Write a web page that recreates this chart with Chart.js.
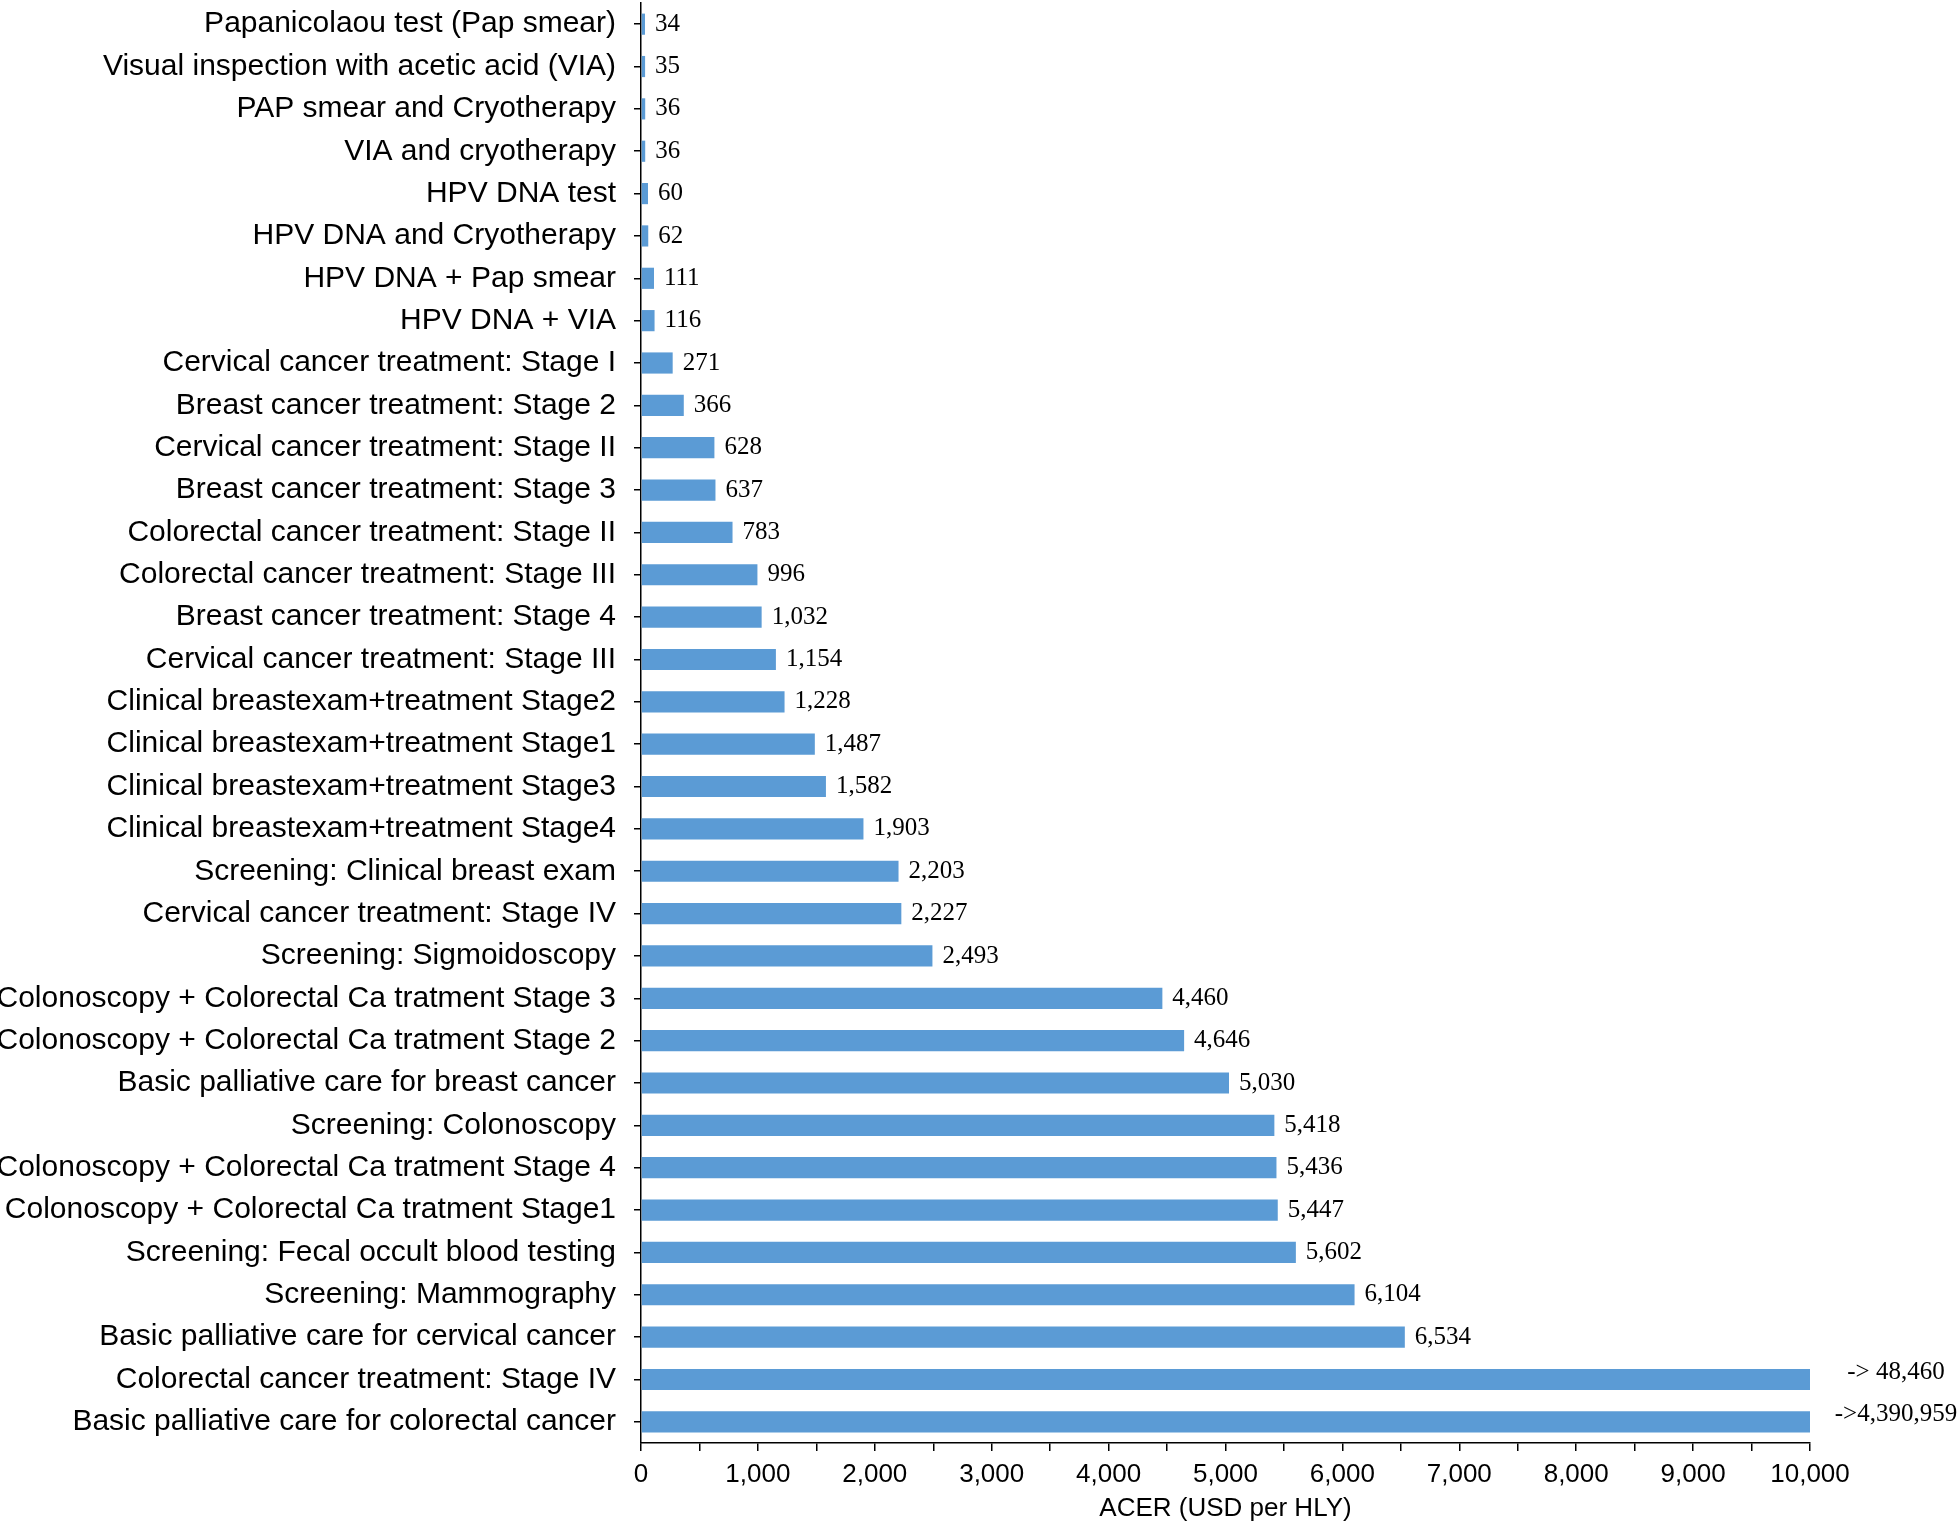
<!DOCTYPE html>
<html>
<head>
<meta charset="utf-8">
<script src="https://cdn.jsdelivr.net/npm/chart.js@4.4.1/dist/chart.umd.min.js"></script>
<style>
html,body{margin:0;padding:0;background:#fff;}
#wrap{width:1960px;height:1524px;}
</style>
</head>
<body>
<div id="wrap"><canvas id="c" width="1960" height="1524"></canvas></div>
<script>
const categories = [
  "Papanicolaou test (Pap smear)",
  "Visual inspection with acetic acid (VIA)",
  "PAP smear and Cryotherapy",
  "VIA and cryotherapy",
  "HPV DNA test",
  "HPV DNA and Cryotherapy",
  "HPV DNA + Pap smear",
  "HPV DNA + VIA",
  "Cervical cancer treatment: Stage I",
  "Breast cancer treatment: Stage 2",
  "Cervical cancer treatment: Stage II",
  "Breast cancer treatment: Stage 3",
  "Colorectal cancer treatment: Stage II",
  "Colorectal cancer treatment: Stage III",
  "Breast cancer treatment: Stage 4",
  "Cervical cancer treatment: Stage III",
  "Clinical breastexam+treatment Stage2",
  "Clinical breastexam+treatment Stage1",
  "Clinical breastexam+treatment Stage3",
  "Clinical breastexam+treatment Stage4",
  "Screening: Clinical breast exam",
  "Cervical cancer treatment: Stage IV",
  "Screening: Sigmoidoscopy",
  "Colonoscopy + Colorectal Ca tratment Stage 3",
  "Colonoscopy + Colorectal Ca tratment Stage 2",
  "Basic palliative care for breast cancer",
  "Screening: Colonoscopy",
  "Colonoscopy + Colorectal Ca tratment Stage 4",
  "Colonoscopy + Colorectal Ca tratment Stage1",
  "Screening: Fecal occult blood testing",
  "Screening: Mammography",
  "Basic palliative care for cervical cancer",
  "Colorectal cancer treatment: Stage IV",
  "Basic palliative care for colorectal cancer"
];
const acerValues = [34, 35, 36, 36, 60, 62, 111, 116, 271, 366, 628, 637, 783, 996, 1032, 1154, 1228, 1487, 1582, 1903, 2203, 2227, 2493, 4460, 4646, 5030, 5418, 5436, 5447, 5602, 6104, 6534, 48460, 4390959];
const xTickMin = 0;
const xTickMax = 10000;
const xTickStep = 500;
const xLabelStep = 1000;
const overflowPrefixes = ["-> ", "->"];
const axisTitle = "ACER (USD per HLY)";

const BAR_COLOR = "#5B9BD5";
const fmt = v => v.toLocaleString("en-US");

const valueLabelPlugin = {
  id: "valueLabels",
  afterDatasetsDraw(chart) {
    const ctx = chart.ctx;
    const meta = chart.getDatasetMeta(0);
    const area = chart.chartArea;
    let ov = 0;
    ctx.save();
    ctx.fillStyle = "#000";
    ctx.font = "25px 'Liberation Serif', 'Times New Roman', serif";
    ctx.textBaseline = "middle";
    meta.data.forEach((bar, i) => {
      const v = acerValues[i];
      if (v > xTickMax) {
        const txt = overflowPrefixes[ov++] + fmt(v);
        ctx.textAlign = "center";
        ctx.fillText(txt, area.right + 86, bar.y - 7);
      } else {
        ctx.textAlign = "left";
        ctx.fillText(fmt(v), bar.x + 10, bar.y);
      }
    });
    ctx.restore();
  }
};

new Chart(document.getElementById("c"), {
  type: "bar",
  data: {
    labels: categories,
    datasets: [{
      data: acerValues,
      backgroundColor: BAR_COLOR,
      borderWidth: 0,
      barPercentage: 0.5,
      categoryPercentage: 1.0
    }]
  },
  options: {
    indexAxis: "y",
    responsive: false,
    animation: false,
    devicePixelRatio: 1,
    layout: { padding: { top: 3, right: 150, left: 0, bottom: 0 } },
    plugins: { legend: { display: false }, tooltip: { enabled: false } },
    scales: {
      y: {
        afterFit(scale) { scale.width = 641; scale.paddingTop = 0; scale.paddingBottom = 0; },
        grid: { offset: false, drawOnChartArea: false, drawTicks: true, tickLength: 7, color: "#000", lineWidth: 1.5 },
        border: { display: true, color: "#000", width: 1.5 },
        ticks: {
          color: "#000",
          padding: 18,
          autoSkip: false,
          font: { family: "'Liberation Sans', Arial, sans-serif", size: 30 }
        }
      },
      x: {
        min: xTickMin,
        max: xTickMax,
        afterFit(scale) { scale.height = 81; },
        grid: { drawOnChartArea: false, drawTicks: true, tickLength: 8, color: "#000", lineWidth: 1.5 },
        border: { display: true, color: "#000", width: 1.5 },
        ticks: {
          stepSize: xTickStep,
          autoSkip: false,
          maxRotation: 0,
          color: "#000",
          padding: 8,
          font: { family: "'Liberation Sans', Arial, sans-serif", size: 26 },
          callback: v => (v % xLabelStep === 0 ? fmt(v) : "")
        },
        title: {
          display: true,
          text: axisTitle,
          color: "#000",
          padding: { top: 0, bottom: 0 },
          font: { family: "'Liberation Sans', Arial, sans-serif", size: 26 }
        }
      }
    }
  },
  plugins: [valueLabelPlugin]
});
</script>
</body>
</html>
